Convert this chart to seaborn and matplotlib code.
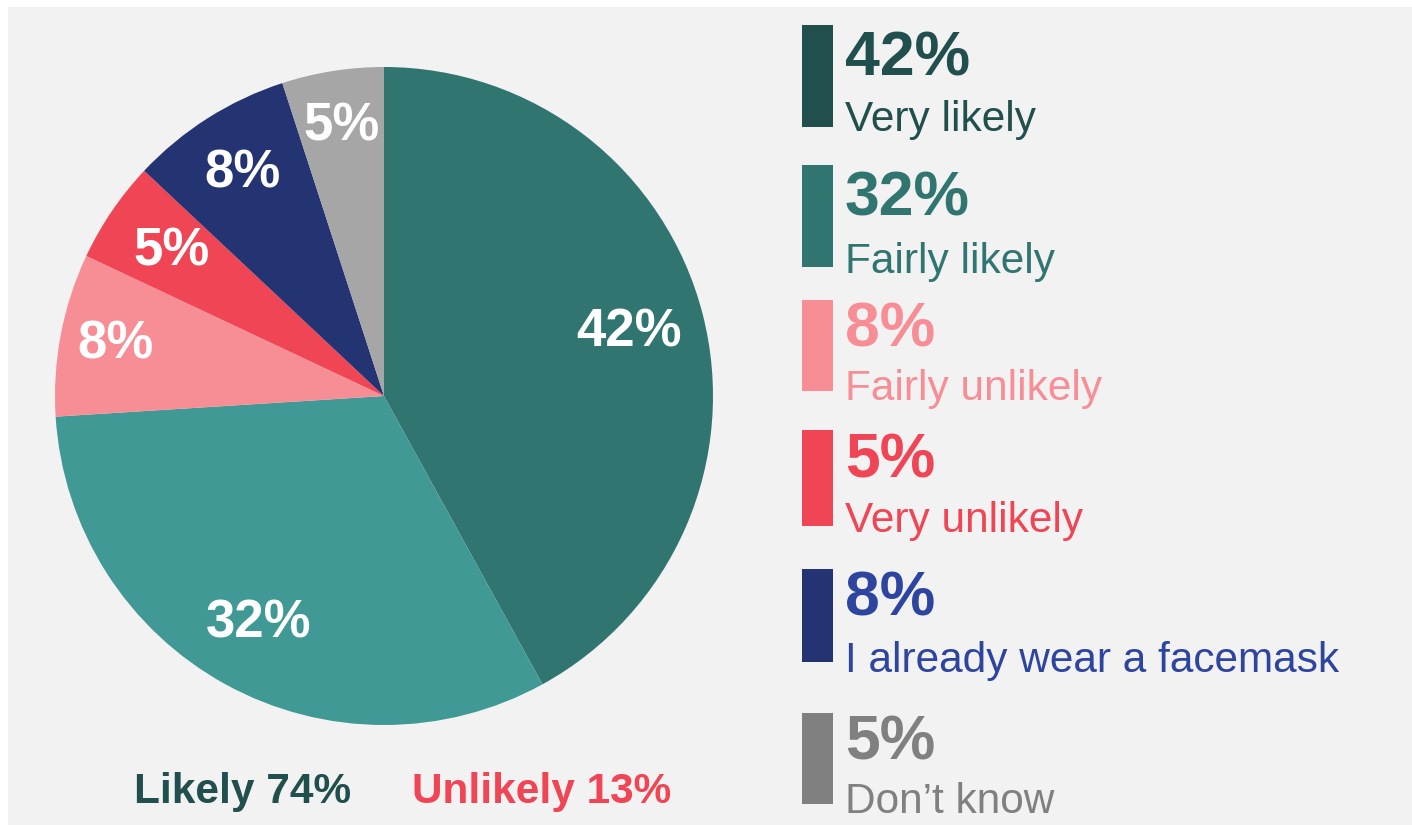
import matplotlib
matplotlib.use("Agg")
import numpy as np
import matplotlib.pyplot as plt
import seaborn as sns
from matplotlib.patches import Rectangle

sns.set_theme(style="white")
plt.rcParams['font.family'] = ['Liberation Sans', 'DejaVu Sans']

# Data
categories = ["Very likely", "Fairly likely", "Fairly unlikely", "Very unlikely",
              "I already wear a facemask", "Don\u2019t know"]
shares = [42, 32, 8, 5, 8, 5]
summary_labels = ["Likely 74%", "Unlikely 13%"]

# Colours
pie_colors = ["#317571", "#419996", "#f78e96", "#f04555", "#243473", "#a6a6a6"]
bar_colors = ["#214f4d", "#317571", "#f78e96", "#f04555", "#243473", "#808080"]
text_colors = ["#214f4d", "#317571", "#f78e96", "#f04555", "#2e45a0", "#808080"]
summary_colors = ["#214f4d", "#f04555"]

W, H = 1412, 825
fig = plt.figure(figsize=(W / 100, H / 100), dpi=100, facecolor="white")

# grey panel
fig.patches.append(Rectangle((8 / W, 0), 1 - 8 / W, 1 - 7 / H, transform=fig.transFigure,
                             facecolor="#f2f2f2", edgecolor="none", zorder=-10))

# -------------------------------
# Pie
# -------------------------------
cx, cy, r = 384, 396, 329
ax = fig.add_axes([(cx - r) / W, (H - cy - r) / H, 2 * r / W, 2 * r / H])
ax.set_zorder(5)
ax.set_facecolor("none")
wedges, texts, autotexts = ax.pie(
    shares, colors=pie_colors, startangle=90, counterclock=False,
    autopct=lambda p: f"{p:.0f}%", pctdistance=0.81,
    wedgeprops=dict(linewidth=0),
    textprops=dict(color="white", fontsize=38, fontweight="bold"))

# label distance from centre, per slice
label_dist = [0.77, 0.79, 0.83, 0.78, 0.80, 0.83]
for w, t, d in zip(wedges, autotexts, label_dist):
    ang = np.deg2rad((w.theta1 + w.theta2) / 2)
    t.set_position((d * np.cos(ang), d * np.sin(ang)))

ax.set_xlim(-1, 1)
ax.set_ylim(-1, 1)
ax.axis("off")

# -------------------------------
# Legend on the right
# -------------------------------
bar_spans = [(25, 127), (165, 267), (300, 391), (430, 526), (569, 662), (713, 804)]
pct_base = [76, 216, 346, 478, 616, 760]
lab_base = [131, 273, 400, 532, 672, 813]

for i, cat in enumerate(categories):
    y0, y1 = bar_spans[i]
    fig.patches.append(Rectangle((802 / W, 1 - y1 / H), 31 / W, (y1 - y0) / H,
                                 transform=fig.transFigure, facecolor=bar_colors[i],
                                 edgecolor="none", zorder=2))
    fig.text(845 / W, 1 - pct_base[i] / H, f"{shares[i]}%", color=text_colors[i],
             fontsize=45, fontweight="bold", va="baseline", ha="left")
    fig.text(845 / W, 1 - lab_base[i] / H, cat, color=text_colors[i],
             fontsize=30.5, va="baseline", ha="left")

# summary at bottom
fig.text(134 / W, 1 - 803 / H, summary_labels[0], color=summary_colors[0],
         fontsize=30.5, fontweight="bold", va="baseline", ha="left")
fig.text(412 / W, 1 - 803 / H, summary_labels[1], color=summary_colors[1],
         fontsize=30.5, fontweight="bold", va="baseline", ha="left")

fig.savefig("out.png", dpi=100, facecolor=fig.get_facecolor())
